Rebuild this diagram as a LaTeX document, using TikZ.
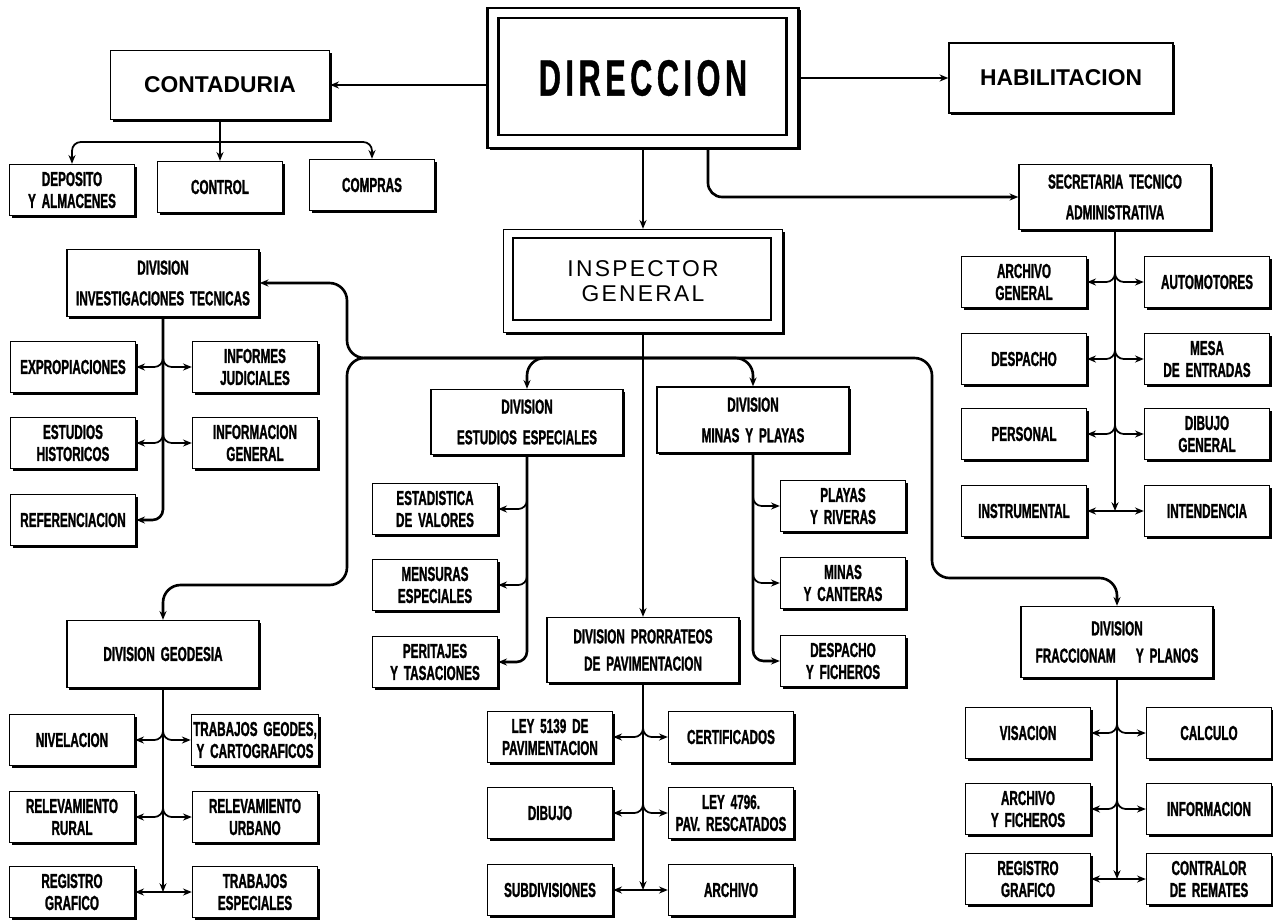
\documentclass[tikz,border=0pt]{standalone}
\usepackage{fontspec}
\usetikzlibrary{arrows.meta,calc,shadows}
\newfontfamily\condfont[FakeStretch=0.58,WordSpace=1.8,BoldFeatures={FakeBold=1.2}]{Liberation Sans}
\newfontfamily\dirfont[FakeStretch=0.6,LetterSpace=9,BoldFeatures={FakeBold=0.8}]{Liberation Sans}
\newfontfamily\inspfont[LetterSpace=10]{Liberation Sans}
\newfontfamily\headfont{Liberation Sans}

\tikzset{
  box/.style={draw, line width=0.8pt, fill=white, inner sep=1pt, align=center,
    drop shadow={shadow xshift=1.3pt, shadow yshift=-1.3pt, fill=black, opacity=1}},
  unitbox/.style={box, minimum width=2.5cm, minimum height=1.02cm,
    font=\condfont\bfseries\fontsize{11.5}{12.5}\selectfont},
  divbox/.style={unitbox, minimum width=3.84cm, minimum height=1.34cm},
  headbox/.style={box, minimum width=4.38cm, minimum height=1.38cm,
    font=\headfont\bfseries\fontsize{13}{15}\selectfont},
  trunk/.style={line width=1.5pt},
  branch/.style={line width=1pt, rounded corners=5pt},
  arrowed/.style={-{Stealth[length=5pt,width=4pt]}},
  twoway/.style={{Stealth[length=5pt,width=4pt]}-{Stealth[length=5pt,width=4pt]}},
}

\begin{document}
\begin{tikzpicture}[x=0.02cm, y=-0.02cm]
  \useasboundingbox (0,0) rectangle (1273,920);
  \fill[white] (0,0) rectangle (1273,920);

  % top
  \node[box, line width=1.2pt, minimum width=6.22cm, minimum height=2.8cm,
    font=\dirfont\bfseries\fontsize{29}{30}\selectfont] (dir) at (643,78) {DIRECCION};
  \draw[line width=1.5pt] ($(dir.north west)+(12,11)$) rectangle ($(dir.south east)+(-13,-14)$);
  \node[headbox] (cont) at (220,85) {CONTADURIA};
  \node[headbox, minimum width=4.48cm, minimum height=1.4cm] (hab) at (1061,78) {HABILITACION};
  \node[unitbox] (dep) at (72,190) {DEPOSITO\\Y ALMACENES};
  \node[unitbox] (ctrl) at (220,187) {CONTROL};
  \node[unitbox] (comp) at (372,185) {COMPRAS};
  \node[box, line width=0.8pt, minimum width=5.58cm, minimum height=2.06cm,
    font=\inspfont\fontsize{13}{14}\selectfont] (insp) at (643,281) {INSPECTOR\\GENERAL};
  \draw[line width=1.4pt] ($(insp.north west)+(10,9)$) rectangle ($(insp.south east)+(-12,-13)$);

  % secretaria
  \node[divbox, minimum height=1.3cm] (secr) at (1115,197) {SECRETARIA TECNICO\\[5pt]ADMINISTRATIVA};
  \node[unitbox] (archg) at (1024,282) {ARCHIVO\\GENERAL};
  \node[unitbox] (autom) at (1207,282) {AUTOMOTORES};
  \node[unitbox] (desp) at (1024,359) {DESPACHO};
  \node[unitbox] (mesa) at (1207,359) {MESA\\DE ENTRADAS};
  \node[unitbox] (pers) at (1024,434) {PERSONAL};
  \node[unitbox] (dibg) at (1207,434) {DIBUJO\\GENERAL};
  \node[unitbox] (instr) at (1024,511) {INSTRUMENTAL};
  \node[unitbox] (inten) at (1207,511) {INTENDENCIA};

  % investigaciones
  \node[divbox] (inv) at (163,283) {DIVISION\\[5pt]INVESTIGACIONES TECNICAS};
  \node[unitbox] (expr) at (73,367) {EXPROPIACIONES};
  \node[unitbox] (infj) at (255,367) {INFORMES\\JUDICIALES};
  \node[unitbox] (esth) at (73,443) {ESTUDIOS\\HISTORICOS};
  \node[unitbox] (infg) at (255,443) {INFORMACION\\GENERAL};
  \node[unitbox] (refe) at (73,520) {REFERENCIACION};

  % estudios especiales
  \node[divbox, minimum height=1.3cm] (este) at (527,422) {DIVISION\\[5pt]ESTUDIOS ESPECIALES};
  \node[unitbox] (estad) at (435,509) {ESTADISTICA\\DE VALORES};
  \node[unitbox] (mens) at (435,585) {MENSURAS\\ESPECIALES};
  \node[unitbox] (perit) at (435,662) {PERITAJES\\Y TASACIONES};

  % minas y playas
  \node[divbox, minimum height=1.32cm] (minp) at (753,420) {DIVISION\\[5pt]MINAS Y PLAYAS};
  \node[unitbox] (play) at (843,506) {PLAYAS\\Y RIVERAS};
  \node[unitbox] (mcan) at (843,583) {MINAS\\Y CANTERAS};
  \node[unitbox] (dfic) at (843,661) {DESPACHO\\Y FICHEROS};

  % prorrateos
  \node[divbox, minimum height=1.3cm] (pror) at (643,650) {DIVISION PRORRATEOS\\[3pt]DE PAVIMENTACION};
  \node[unitbox] (ley51) at (550,737) {LEY 5139 DE\\PAVIMENTACION};
  \node[unitbox] (cert) at (731,737) {CERTIFICADOS};
  \node[unitbox] (dibu) at (550,813) {DIBUJO};
  \node[unitbox] (ley47) at (731,813) {LEY 4796.\\PAV. RESCATADOS};
  \node[unitbox] (subd) at (550,890) {SUBDIVISIONES};
  \node[unitbox] (arch) at (731,890) {ARCHIVO};

  % geodesia
  \node[divbox] (geo) at (163,654) {DIVISION GEODESIA};
  \node[unitbox] (nive) at (72,740) {NIVELACION};
  \node[unitbox] (trgeo) at (255,740) {TRABAJOS GEODES,\\Y CARTOGRAFICOS};
  \node[unitbox] (rrur) at (72,817) {RELEVAMIENTO\\RURAL};
  \node[unitbox] (rurb) at (255,817) {RELEVAMIENTO\\URBANO};
  \node[unitbox] (rgraf) at (72,892) {REGISTRO\\GRAFICO};
  \node[unitbox] (trabe) at (255,892) {TRABAJOS\\ESPECIALES};

  % fraccionamiento
  \node[divbox, minimum height=1.42cm] (frac) at (1117,642) {DIVISION\\[3pt]FRACCIONAM\quad Y PLANOS};
  \node[unitbox] (visa) at (1028,733) {VISACION};
  \node[unitbox] (calc) at (1209,733) {CALCULO};
  \node[unitbox] (arfi) at (1028,809) {ARCHIVO\\Y FICHEROS};
  \node[unitbox] (info) at (1209,809) {INFORMACION};
  \node[unitbox] (rgr2) at (1028,879) {REGISTRO\\GRAFICO};
  \node[unitbox] (contr) at (1209,879) {CONTRALOR\\DE REMATES};

  % connectors from the top
  \draw[line width=1.2pt, arrowed] (cont.east -| dir.west) -- (cont.east);
  \draw[line width=1.2pt, arrowed] (hab.west -| dir.east) -- (hab.west);
  \draw[trunk, arrowed] (dir.south) -- (insp.north);
  \draw[trunk, rounded corners=8pt, arrowed] ($(dir.south)+(65,0)$) |- (secr.west);
  \coordinate (contbus) at (220,142);
  \draw[trunk, arrowed] (cont.south) -- (ctrl.north);
  \draw[branch, twoway] (dep.north) |- (contbus) -| (comp.north);

  % main bus
  \coordinate (bus) at (643,358);
  \coordinate (busw) at (347,358);
  \coordinate (buse) at (932,358);
  \coordinate (geoturn) at (347,585);
  \coordinate (fracturn) at (932,578);
  \draw[trunk] (insp.south) -- (bus);
  \draw[trunk, arrowed] (bus) -- (pror.north);
  \draw[trunk, rounded corners=10pt, arrowed] (bus) -| (este.north);
  \draw[trunk, rounded corners=10pt, arrowed] (bus) -| (minp.north);
  \draw[trunk, rounded corners=10pt, arrowed] (bus) -- (busw) |- (inv.east);
  \draw[trunk, rounded corners=10pt, arrowed] (bus) -- (busw) -- (geoturn) -| (geo.north);
  \draw[trunk, rounded corners=10pt, arrowed] (bus) -- (buse) -- (fracturn) -| (frac.north);

  % two sided columns
  \foreach \top/\l/\r in {secr/archg/autom, secr/desp/mesa, secr/pers/dibg,
      inv/expr/infj, inv/esth/infg, pror/ley51/cert, pror/dibu/ley47,
      geo/nive/trgeo, geo/rrur/rurb, frac/visa/calc, frac/arfi/info} {
    \draw[branch, arrowed] ($(\top.south |- \l.east)+(0,-14)$) |- (\l.east);
    \draw[branch, arrowed] ($(\top.south |- \l.east)+(0,-14)$) |- (\r.west);
  }
  \foreach \top/\l/\r in {secr/instr/inten, pror/subd/arch, geo/rgraf/trabe, frac/rgr2/contr} {
    \draw[trunk, arrowed] (\top.south) -- (\top.south |- \l.east);
    \draw[branch, twoway] (\l.east) -- (\l.east -| \r.west);
  }
  \draw[trunk, rounded corners=6pt, arrowed] (inv.south) |- (refe.east);

  % one sided columns
  \draw[trunk, rounded corners=6pt, arrowed] (este.south) |- (perit.east);
  \draw[trunk, rounded corners=6pt, arrowed] (minp.south) |- (dfic.west);
  \foreach \top/\b in {este/estad, este/mens} {
    \draw[branch, arrowed] ($(\top.south |- \b.east)+(0,-14)$) |- (\b.east);
  }
  \foreach \top/\b in {minp/play, minp/mcan} {
    \draw[branch, arrowed] ($(\top.south |- \b.west)+(0,-14)$) |- (\b.west);
  }
\end{tikzpicture}
\end{document}
